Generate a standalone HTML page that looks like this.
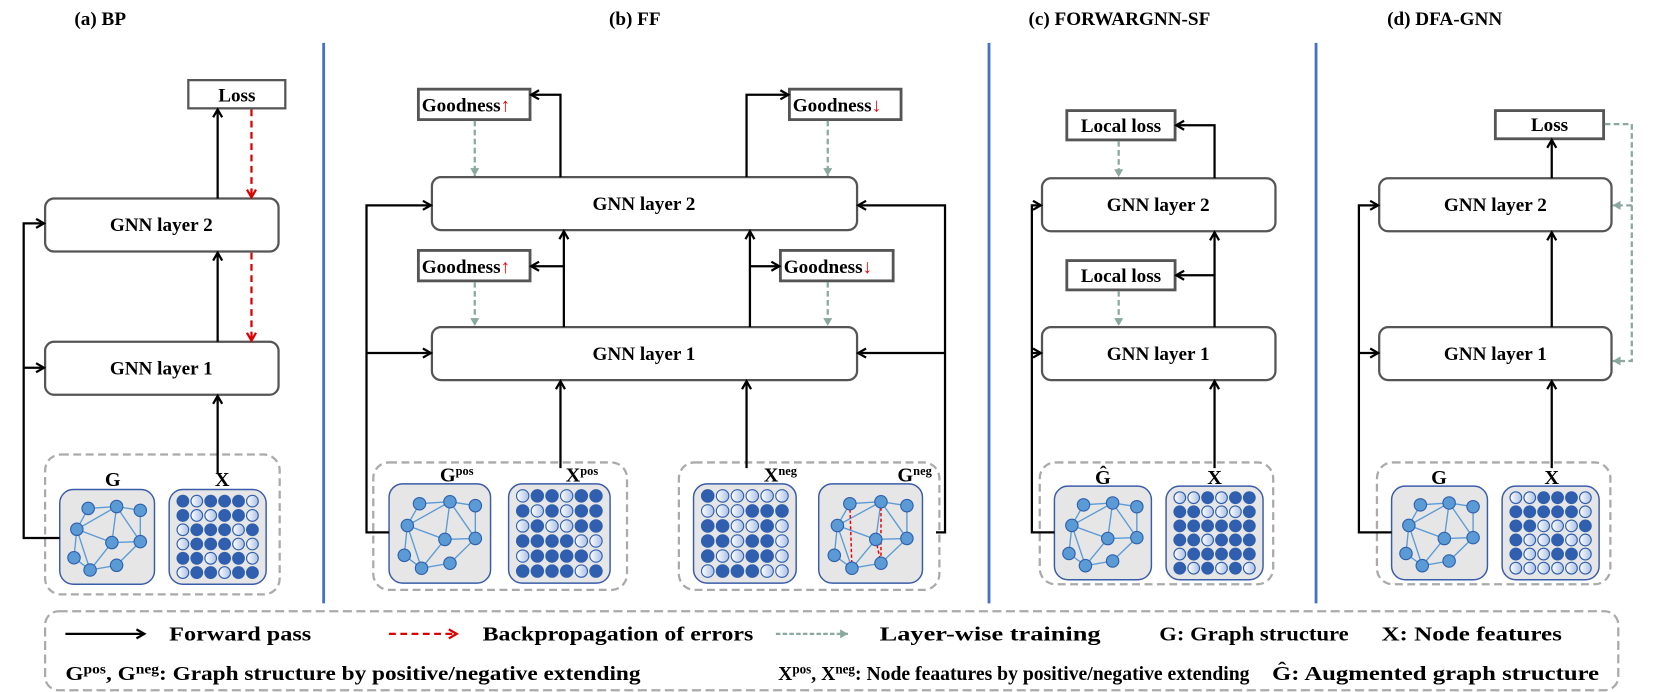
<!DOCTYPE html>
<html><head><meta charset="utf-8"><style>
html,body{margin:0;padding:0;background:#fff;}
svg{display:block;}
text{font-family:"Liberation Serif",serif;font-weight:bold;fill:#000;}
</style></head><body>
<svg id="s" width="1660" height="692" viewBox="0 0 1472 613.5" xmlns="http://www.w3.org/2000/svg">
<defs>
<marker id="ab" markerWidth="10" markerHeight="10" refX="8" refY="5" orient="auto" markerUnits="userSpaceOnUse"><path d="M1,1 L8,5 L1,9" fill="none" stroke="#000" stroke-width="2"/></marker>
<marker id="ar" markerWidth="10" markerHeight="10" refX="8" refY="5" orient="auto" markerUnits="userSpaceOnUse"><path d="M1,1 L8,5 L1,9" fill="none" stroke="#d00" stroke-width="2"/></marker>
<marker id="ag" markerWidth="10" markerHeight="10" refX="8" refY="5" orient="auto" markerUnits="userSpaceOnUse"><path d="M1,1 L8,5 L1,9 Z" fill="#8aa8a0" stroke="none"/></marker>
<linearGradient id="lg" x1="0" y1="0" x2="1" y2="0"><stop offset="0" stop-color="#fff"/><stop offset="1" stop-color="#a9bfe6"/></linearGradient>
</defs>
<text x="66" y="22" font-size="17">(a)  BP</text>
<text x="540" y="22" font-size="17">(b)  FF</text>
<text x="912" y="22" font-size="17">(c)  FORWARGNN-SF</text>
<text x="1230" y="22" font-size="17">(d)  DFA-GNN</text>
<g stroke="#4472c4" stroke-width="2.5"><line x1="287" y1="38" x2="287" y2="535"/><line x1="877" y1="38" x2="877" y2="535"/><line x1="1167" y1="38" x2="1167" y2="535"/></g>

<g id="cards"></g>

<g id="main" fill="none" stroke-width="2">
<rect x="167" y="71" width="86" height="25" fill="#fff" stroke="#555"/>
<rect x="40" y="176" width="207" height="47" rx="8" fill="#fff" stroke="#555"/>
<rect x="40" y="303" width="207" height="47" rx="8" fill="#fff" stroke="#555"/>
<rect x="40" y="403" width="208" height="124" rx="14" stroke="#aaa" stroke-dasharray="7,4"/>
<g stroke="#000">
<line x1="193" y1="176" x2="193" y2="97" marker-end="url(#ab)"/>
<line x1="193" y1="303" x2="193" y2="224" marker-end="url(#ab)"/>
<line x1="193" y1="420" x2="193" y2="351" marker-end="url(#ab)"/>
<polyline points="53,477 21,477 21,198 39,198" marker-end="url(#ab)"/>
<line x1="21" y1="326" x2="39" y2="326" marker-end="url(#ab)"/>
</g>
<g stroke="#d00" stroke-dasharray="6,4"><line x1="223" y1="97" x2="223" y2="175" marker-end="url(#ar)"/><line x1="223" y1="224" x2="223" y2="302" marker-end="url(#ar)"/></g>

<rect x="383" y="157" width="377" height="47" rx="8" fill="#fff" stroke="#555"/>
<rect x="383" y="290" width="377" height="47" rx="8" fill="#fff" stroke="#555"/>
<rect x="371" y="79" width="99" height="27" fill="#fff" stroke="#555" stroke-width="2.5"/>
<rect x="700" y="79" width="99" height="27" fill="#fff" stroke="#555" stroke-width="2.5"/>
<rect x="371" y="222" width="99" height="27" fill="#fff" stroke="#555" stroke-width="2.5"/>
<rect x="692" y="222" width="100" height="27" fill="#fff" stroke="#555" stroke-width="2.5"/>
<rect x="331" y="410" width="225" height="113" rx="14" stroke="#aaa" stroke-dasharray="7,4"/>
<rect x="602" y="410" width="231" height="113" rx="14" stroke="#aaa" stroke-dasharray="7,4"/>
<g stroke="#000">
<polyline points="497,157 497,84 471,84" marker-end="url(#ab)"/>
<polyline points="662,157 662,84 699,84" marker-end="url(#ab)"/>
<line x1="500" y1="290" x2="500" y2="205" marker-end="url(#ab)"/>
<line x1="500" y1="236" x2="471" y2="236" marker-end="url(#ab)"/>
<line x1="665" y1="290" x2="665" y2="205" marker-end="url(#ab)"/>
<line x1="665" y1="236" x2="691" y2="236" marker-end="url(#ab)"/>
<line x1="497" y1="415" x2="497" y2="338" marker-end="url(#ab)"/>
<line x1="662" y1="415" x2="662" y2="338" marker-end="url(#ab)"/>
<polyline points="345,472 325,472 325,182 382,182" marker-end="url(#ab)"/>
<line x1="325" y1="313" x2="382" y2="313" marker-end="url(#ab)"/>
<polyline points="830,472 838,472 838,182 761,182" marker-end="url(#ab)"/>
<line x1="838" y1="313" x2="761" y2="313" marker-end="url(#ab)"/>
</g>
<g stroke="#8aa8a0" stroke-dasharray="5,3"><line x1="421" y1="107" x2="421" y2="156" marker-end="url(#ag)"/><line x1="734" y1="107" x2="734" y2="156" marker-end="url(#ag)"/><line x1="421" y1="250" x2="421" y2="289" marker-end="url(#ag)"/><line x1="734" y1="250" x2="734" y2="289" marker-end="url(#ag)"/></g>

<rect x="924" y="158" width="207" height="47" rx="8" fill="#fff" stroke="#555"/>
<rect x="924" y="290" width="207" height="47" rx="8" fill="#fff" stroke="#555"/>
<rect x="946" y="98" width="96" height="26" fill="#fff" stroke="#555" stroke-width="2.5"/>
<rect x="946" y="231" width="96" height="26" fill="#fff" stroke="#555" stroke-width="2.5"/>
<rect x="922" y="410" width="207" height="108" rx="14" stroke="#aaa" stroke-dasharray="7,4"/>
<g stroke="#000">
<polyline points="1077,158 1077,111 1043,111" marker-end="url(#ab)"/>
<line x1="1077" y1="290" x2="1077" y2="206" marker-end="url(#ab)"/>
<line x1="1077" y1="244" x2="1043" y2="244" marker-end="url(#ab)"/>
<line x1="1077" y1="415" x2="1077" y2="338" marker-end="url(#ab)"/>
<polyline points="935,472 915,472 915,182 923,182" marker-end="url(#ab)"/>
<line x1="915" y1="313" x2="923" y2="313" marker-end="url(#ab)"/>
</g>
<g stroke="#8aa8a0" stroke-dasharray="5,3"><line x1="992" y1="125" x2="992" y2="157" marker-end="url(#ag)"/><line x1="992" y1="258" x2="992" y2="289" marker-end="url(#ag)"/></g>

<rect x="1223" y="158" width="206" height="47" rx="8" fill="#fff" stroke="#555"/>
<rect x="1223" y="290" width="206" height="47" rx="8" fill="#fff" stroke="#555"/>
<rect x="1326" y="98" width="96" height="25" fill="#fff" stroke="#555" stroke-width="2.5"/>
<rect x="1221" y="410" width="207" height="108" rx="14" stroke="#aaa" stroke-dasharray="7,4"/>
<g stroke="#000">
<line x1="1376" y1="158" x2="1376" y2="124" marker-end="url(#ab)"/>
<line x1="1376" y1="290" x2="1376" y2="206" marker-end="url(#ab)"/>
<line x1="1376" y1="415" x2="1376" y2="338" marker-end="url(#ab)"/>
<polyline points="1234,472 1205,472 1205,182 1222,182" marker-end="url(#ab)"/>
<line x1="1205" y1="313" x2="1222" y2="313" marker-end="url(#ab)"/>
</g>
<g stroke="#8aa8a0" stroke-dasharray="5,3"><polyline points="1423,110 1447,110 1447,320 1430,320" marker-end="url(#ag)"/><line x1="1447" y1="182" x2="1430" y2="182" marker-end="url(#ag)"/></g>

<rect x="40" y="542" width="1395" height="70" rx="12" stroke="#aaa" stroke-dasharray="8,4"/>
<line x1="58" y1="562" x2="128" y2="562" stroke="#000" marker-end="url(#ab)"/>
<line x1="345" y1="562" x2="405" y2="562" stroke="#d00" stroke-dasharray="6,4" marker-end="url(#ar)"/>
<line x1="688" y1="562" x2="752" y2="562" stroke="#8aa8a0" stroke-dasharray="4,2" marker-end="url(#ag)"/>
</g>

<g font-size="17" text-anchor="middle">
<text x="210" y="90">Loss</text>
<text x="143" y="205">GNN layer 2</text>
<text x="143" y="332">GNN layer 1</text>
<text x="571" y="186">GNN layer 2</text>
<text x="571" y="319">GNN layer 1</text>
<text x="1027" y="187">GNN layer 2</text>
<text x="1027" y="319">GNN layer 1</text>
<text x="1326" y="187">GNN layer 2</text>
<text x="1326" y="319">GNN layer 1</text>
<text x="994" y="117">Local loss</text>
<text x="994" y="250">Local loss</text>
<text x="1374" y="116">Loss</text>
</g>
<g font-size="17">
<text x="374" y="99">Goodness<tspan fill="#e00">↑</tspan></text>
<text x="703" y="99">Goodness<tspan fill="#e00">↓</tspan></text>
<text x="374" y="242">Goodness<tspan fill="#e00">↑</tspan></text>
<text x="695" y="242">Goodness<tspan fill="#e00">↓</tspan></text>
</g>
<g font-size="18" text-anchor="middle">
<text x="100" y="431">G</text><text x="197" y="431">X</text>
<text x="405" y="427">G<tspan font-size="11" dy="-6">pos</tspan></text>
<text x="516" y="427">X<tspan font-size="11" dy="-6">pos</tspan></text>
<text x="692" y="427">X<tspan font-size="11" dy="-6">neg</tspan></text>
<text x="811" y="427">G<tspan font-size="11" dy="-6">neg</tspan></text>
<text x="978" y="429">Ĝ</text><text x="1077" y="429">X</text>
<text x="1276" y="429">G</text><text x="1376" y="429">X</text>
</g>
<g font-size="18">
<text x="150" y="568" textLength="126" lengthAdjust="spacingAndGlyphs">Forward pass</text>
<text x="428" y="568" textLength="240" lengthAdjust="spacingAndGlyphs">Backpropagation of errors</text>
<text x="780" y="568" textLength="196" lengthAdjust="spacingAndGlyphs">Layer-wise training</text>
<text x="1028" y="568" textLength="168" lengthAdjust="spacingAndGlyphs">G: Graph structure</text>
<text x="1225" y="568" textLength="160" lengthAdjust="spacingAndGlyphs">X: Node features</text>
<text x="58" y="603" textLength="510" lengthAdjust="spacingAndGlyphs">G<tspan font-size="12" dy="-6">pos</tspan><tspan dy="6">, G</tspan><tspan font-size="12" dy="-6">neg</tspan><tspan dy="6">: Graph structure by positive/negative extending</tspan></text>
<text x="690" y="603" textLength="418" lengthAdjust="spacingAndGlyphs">X<tspan font-size="12" dy="-6">pos</tspan><tspan dy="6">, X</tspan><tspan font-size="12" dy="-6">neg</tspan><tspan dy="6">: Node feaatures by positive/negative extending</tspan></text>
<text x="1128" y="603" textLength="290" lengthAdjust="spacingAndGlyphs">Ĝ: Augmented graph structure</text>
</g>
</svg>
<script>
(function(){
var NS="http://www.w3.org/2000/svg",g=document.getElementById("cards");
function el(t,a){var e=document.createElementNS(NS,t);for(var k in a)e.setAttribute(k,a[k]);g.appendChild(e);return e;}
var seed=7;function rnd(){seed=(seed*9301+49297)%233280;return seed/233280;}
function matrix(x,y,w,h){
 el("rect",{x:x,y:y,width:w,height:h,rx:12,fill:"#e6e6e6",stroke:"#3a5ca8","stroke-width":1.3});
 var sx=(w-12)/6,sy=(h-8)/6;
 for(var r=0;r<6;r++)for(var c=0;c<6;c++){
  var d=rnd()<0.5;
  el("circle",{cx:x+6+sx*(c+0.5),cy:y+4+sy*(r+0.5),r:Math.min(sx,sy)*0.42,fill:d?"#2f5fae":"url(#lg)",stroke:"#2f5fae","stroke-width":1});
 }
}
var nodes=[[0.3,0.2],[0.6,0.18],[0.85,0.22],[0.18,0.42],[0.55,0.56],[0.85,0.55],[0.15,0.72],[0.32,0.85],[0.6,0.8]];
var edges=[[0,1],[1,2],[0,3],[3,1],[1,4],[3,4],[4,5],[2,5],[3,6],[3,7],[6,7],[7,4],[7,8],[8,5],[1,5]];
function graph(x,y,w,h,red){
 el("rect",{x:x,y:y,width:w,height:h,rx:12,fill:"#e6e6e6",stroke:"#3a5ca8","stroke-width":1.3});
 function P(i){return [x+nodes[i][0]*w,y+nodes[i][1]*h];}
 edges.forEach(function(e){var a=P(e[0]),b=P(e[1]);el("line",{x1:a[0],y1:a[1],x2:b[0],y2:b[1],stroke:"#5b9bd5","stroke-width":1.2});});
 if(red){[[0,7],[1,8],[4,8]].forEach(function(e){var a=P(e[0]),b=P(e[1]);el("line",{x1:a[0],y1:a[1],x2:b[0],y2:b[1],stroke:"#e00","stroke-width":1.3,"stroke-dasharray":"3,2"});});}
 nodes.forEach(function(n,i){var p=P(i);el("circle",{cx:p[0],cy:p[1],r:5.5,fill:"#5b9bd5",stroke:"#2f5fae","stroke-width":1});});
}
graph(53,434,84,84);matrix(150,434,86,84);
graph(345,429,90,88);matrix(451,429,90,88);
matrix(615,429,91,88);graph(726,429,92,88,true);
graph(935,431,86,83);matrix(1034,431,86,83);
graph(1234,431,85,83);matrix(1332,431,86,83);
})();
</script>
</body></html>
